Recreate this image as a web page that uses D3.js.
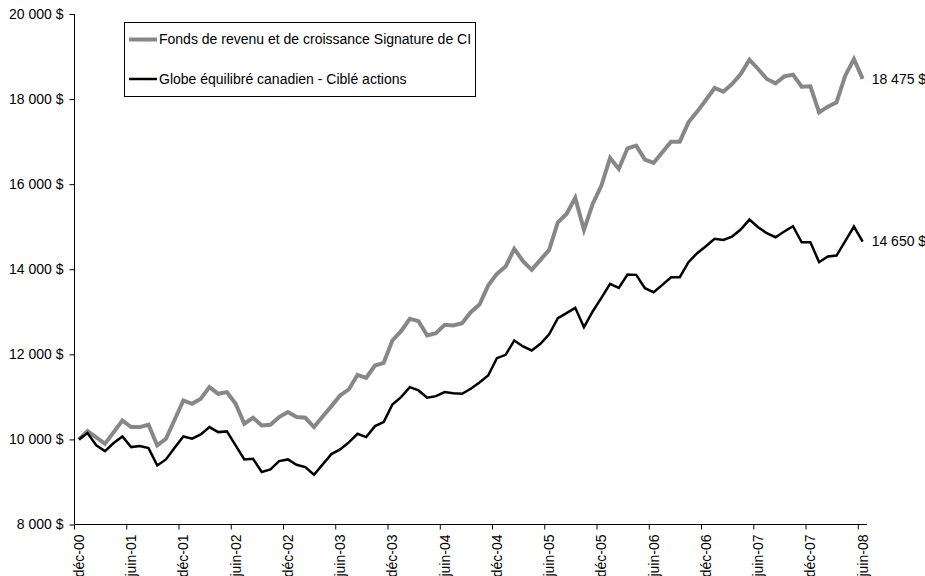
<!DOCTYPE html>
<html>
<head>
<meta charset="utf-8">
<script src="https://cdn.jsdelivr.net/npm/d3@7"></script>
<style>
  html, body { margin: 0; padding: 0; background: #fff; }
  svg { display: block; font-family: "Liberation Sans", Arial, sans-serif; }
</style>
</head>
<body>
<svg id="chart" width="925" height="576"></svg>
<script>
// ---- Data ----
const monthNames = ["janv", "févr", "mars", "avr", "mai", "juin", "juil", "août", "sept", "oct", "nov", "déc"];
const tickLabels = ["déc-00", "juin-01", "déc-01", "juin-02", "déc-02", "juin-03", "déc-03", "juin-04",
                    "déc-04", "juin-05", "déc-05", "juin-06", "déc-06", "juin-07", "déc-07", "juin-08"];
const seriesNames = ["Fonds de revenu et de croissance Signature de CI", "Globe équilibré canadien - Ciblé actions"];
const signatureValues = [
  10000, 10196, 10047, 9898, 10172, 10446, 10290, 10290, 10345, 9859, 10016, 10462,
  10916, 10838, 10955, 11229, 11073, 11112, 10838, 10368, 10509, 10329, 10345, 10525,
  10642, 10525, 10509, 10290, 10540, 10783, 11034, 11175, 11519, 11449, 11738, 11801,
  12325, 12545, 12834, 12780, 12443, 12498, 12694, 12678, 12733, 12991, 13171, 13617,
  13892, 14064, 14479, 14189, 13985, 14220, 14455, 15105, 15301, 15677, 14925, 15536,
  15966, 16616, 16358, 16843, 16906, 16577, 16499, 16749, 17000, 17000, 17454, 17705,
  17979, 18261, 18175, 18355, 18590, 18926, 18707, 18472, 18370, 18535, 18574, 18292,
  18300, 17689, 17822, 17924, 18550, 18942, 18475
];
const globeValues = [
  10000, 10149, 9859, 9726, 9914, 10070, 9820, 9843, 9796, 9389, 9530, 9804,
  10070, 10016, 10117, 10290, 10172, 10188, 9859, 9530, 9546, 9233, 9295, 9491,
  9530, 9405, 9350, 9170, 9413, 9655, 9765, 9930, 10133, 10055, 10313, 10407,
  10822, 10994, 11229, 11151, 10979, 11018, 11112, 11088, 11073, 11190, 11339, 11503,
  11910, 11989, 12326, 12185, 12091, 12247, 12470, 12850, 12968, 13093, 12639, 13007,
  13328, 13657, 13563, 13876, 13868, 13555, 13461, 13633, 13813, 13813, 14166, 14377,
  14541, 14714, 14690, 14768, 14933, 15168, 14988, 14847, 14753, 14886, 15011, 14635,
  14635, 14166, 14299, 14322, 14659, 15003, 14650
];
const endLabels = ["18 475 $", "14 650 $"];
const yTicks = [8000, 10000, 12000, 14000, 16000, 18000, 20000];

// categories: monthly from déc-00 to juin-08
const categories = [];
{
  let m = 11, yr = 0;
  for (let i = 0; i < signatureValues.length; i++) {
    categories.push(monthNames[m] + "-" + String(yr).padStart(2, "0"));
    m++; if (m === 12) { m = 0; yr++; }
  }
}

// ---- Layout ----
const svg = d3.select("#chart");
const plotLeft = 74.5, plotRight = 867, plotTop = 14, plotBottom = 524.5;
const FS = 14;

const x = d3.scaleBand().domain(categories).range([plotLeft, plotRight]).padding(0);
const y = d3.scaleLinear().domain([8000, 20000]).range([plotBottom, plotTop]);
const cx = c => x(c) + x.bandwidth() / 2;

const fmt = v => d3.format(",")(v).replace(/,/g, " ") + " $";

// Y axis
const yAxis = d3.axisLeft(y).tickValues(yTicks).tickSize(5).tickPadding(6).tickFormat(fmt);
const gy = svg.append("g").attr("transform", `translate(${plotLeft},0)`).call(yAxis);
gy.select(".domain").attr("stroke", "#000").attr("d", `M0,${plotTop}V${plotBottom}`);
gy.selectAll(".tick line").attr("stroke", "#000");
gy.selectAll(".tick text").attr("font-size", FS).attr("fill", "#000")
  .attr("font-family", "'Liberation Sans', Arial, sans-serif");

// X axis line
svg.append("line").attr("x1", plotLeft).attr("x2", plotRight).attr("y1", plotBottom).attr("y2", plotBottom)
  .attr("stroke", "#000");
// X ticks (at category boundary) and labels (at category center)
const tickCats = categories.filter(c => tickLabels.includes(c));
svg.selectAll(".xtick").data(tickCats).join("line")
  .attr("x1", c => x(c)).attr("x2", c => x(c))
  .attr("y1", plotBottom).attr("y2", plotBottom + 5)
  .attr("stroke", "#000");
svg.selectAll(".xlab").data(tickCats).join("text")
  .attr("transform", c => `translate(${cx(c)},${plotBottom + 10}) rotate(-90)`)
  .attr("text-anchor", "end")
  .attr("dy", "0.35em")
  .attr("font-size", FS)
  .attr("fill", "#000")
  .text(c => c);

// Lines
const line = d3.line().x((d, i) => cx(categories[i])).y(d => y(d));
svg.append("path").datum(signatureValues).attr("d", line)
  .attr("fill", "none").attr("stroke", "#878787").attr("stroke-width", 4)
  .attr("stroke-linejoin", "miter");
svg.append("path").datum(globeValues).attr("d", line)
  .attr("fill", "none").attr("stroke", "#000").attr("stroke-width", 2.5)
  .attr("stroke-linejoin", "miter");

// End labels
const lastCat = categories[categories.length - 1];
[[signatureValues, endLabels[0]], [globeValues, endLabels[1]]].forEach(([vals, lab]) => {
  svg.append("text")
    .attr("x", cx(lastCat) + 9)
    .attr("y", y(vals[vals.length - 1]))
    .attr("dy", "0.35em")
    .attr("font-size", FS)
    .attr("fill", "#000")
    .text(lab);
});

// Legend
const lg = svg.append("g");
lg.append("rect").attr("x", 124.5).attr("y", 22.5).attr("width", 351).attr("height", 74)
  .attr("fill", "#fff").attr("stroke", "#000").attr("stroke-width", 1);
const legendItems = [
  { name: seriesNames[0], color: "#878787", w: 4, yy: 39.5 },
  { name: seriesNames[1], color: "#000", w: 2.5, yy: 79 }
];
legendItems.forEach(it => {
  lg.append("line").attr("x1", 129).attr("x2", 157).attr("y1", it.yy).attr("y2", it.yy)
    .attr("stroke", it.color).attr("stroke-width", it.w);
  lg.append("text").attr("x", 159).attr("y", it.yy).attr("dy", "0.35em")
    .attr("font-size", FS).attr("fill", "#000").text(it.name);
});
</script>
</body>
</html>
